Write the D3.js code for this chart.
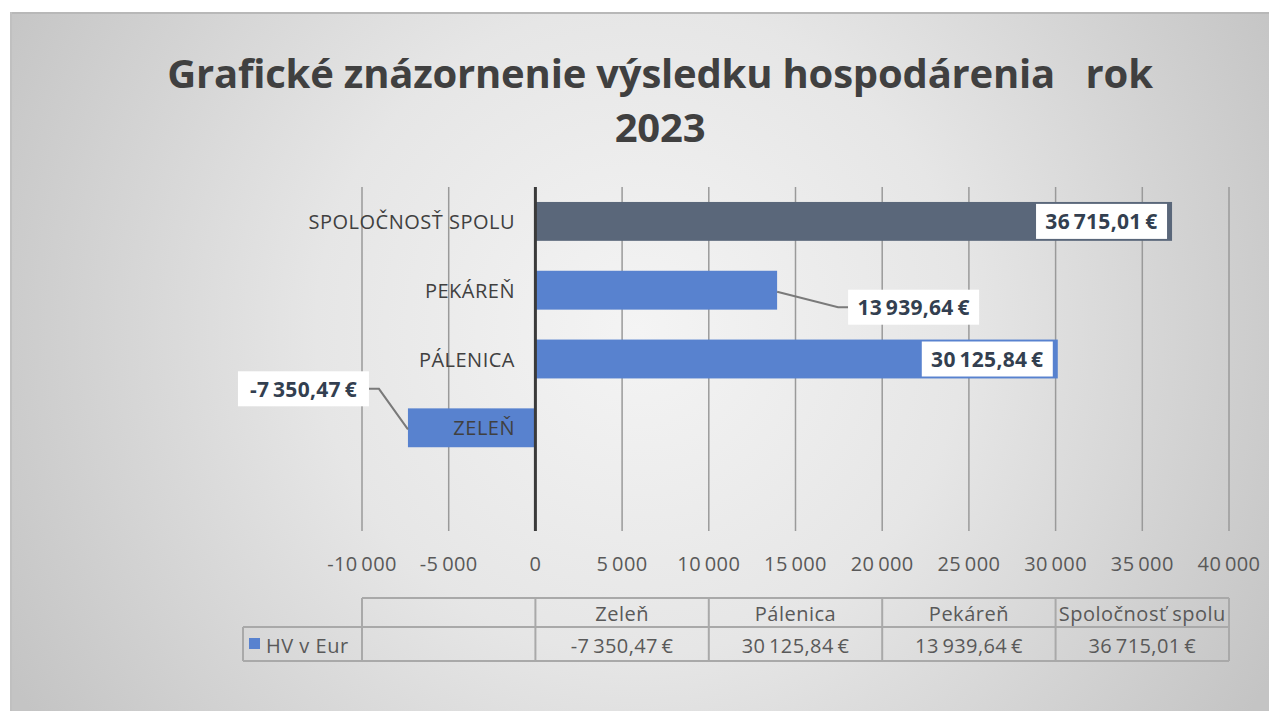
<!DOCTYPE html>
<html>
<head>
<meta charset="utf-8">
<script src="https://cdn.jsdelivr.net/npm/d3@7"></script>
<style>
  body { margin: 0; background: #fff; }
  text { font-family: "Open Sans", Lato, sans-serif; }
</style>
</head>
<body>
<div id="chart"></div>
<script>
var width = 1269, height = 711;

// data, bottom-to-top order as in the data table
var categories = ['', 'Zeleň', 'Pálenica', 'Pekáreň', 'Spoločnosť spolu'];
var values = [null, -7350.47, 30125.84, 13939.64, 36715.01];
var xTicks = [-10000, -5000, 0, 5000, 10000, 15000, 20000, 25000, 30000, 35000, 40000];
var seriesName = 'HV v Eur';
var title = ['Grafické znázornenie výsledku hospodárenia\u00a0\u00a0 rok', '2023'];

var loc = d3.formatLocale({ decimal: ',', thousands: '\u2009', grouping: [3], currency: ['', '\u00a0€'], minus: '-' });
var fmtTick = loc.format(',d');
var fmtEur = function (v) { return loc.format(',.2f')(v) + '\u2009€'; };

var svg = d3.select('#chart').append('svg')
    .attr('width', width)
    .attr('height', height);

var defs = svg.append('defs');
var grad = defs.append('radialGradient')
    .attr('id', 'bg')
    .attr('gradientUnits', 'userSpaceOnUse')
    .attr('cx', 640).attr('cy', 330).attr('r', 720);
grad.append('stop').attr('offset', '0%').attr('stop-color', '#f4f4f4');
grad.append('stop').attr('offset', '45%').attr('stop-color', '#e6e6e6');
grad.append('stop').attr('offset', '100%').attr('stop-color', '#c4c4c4');

svg.append('rect')
    .attr('x', 10).attr('y', 12)
    .attr('width', width - 10).attr('height', height - 12)
    .attr('fill', 'url(#bg)');
svg.append('line')
    .attr('x1', 10).attr('x2', width).attr('y1', 13).attr('y2', 13)
    .attr('stroke', '#b8b8b8').attr('stroke-width', 2);
svg.append('line')
    .attr('x1', 11).attr('x2', 11).attr('y1', 12).attr('y2', height)
    .attr('stroke', '#c0c0c0').attr('stroke-width', 2);

// title
svg.append('g').selectAll('text').data(title).enter().append('text')
    .attr('x', 660)
    .attr('y', (d, i) => 88 + i * 54)
    .attr('text-anchor', 'middle')
    .attr('font-size', 40)
    .attr('font-weight', 'bold')
    .attr('letter-spacing', -0.2)
    .attr('fill', '#404040')
    .text((d) => d);

var x = d3.scaleLinear().domain([-10000, 40000]).range([362, 1229]);
var y = d3.scaleBand()
    .domain(categories.slice().reverse())
    .range([187, 531])
    .paddingInner(0.435)
    .paddingOuter(0.2175);

// gridlines
svg.append('g').selectAll('line').data(xTicks).enter().append('line')
    .attr('x1', (d) => x(d)).attr('x2', (d) => x(d))
    .attr('y1', 187).attr('y2', 531)
    .attr('stroke', '#9a9a9a').attr('stroke-width', 1.5);

// bars
var rows = categories.map((c, i) => ({ name: c, value: values[i] })).filter((d) => d.value !== null);
svg.append('g').selectAll('rect').data(rows).enter().append('rect')
    .attr('x', (d) => x(Math.min(0, d.value)))
    .attr('width', (d) => Math.abs(x(d.value) - x(0)))
    .attr('y', (d) => y(d.name))
    .attr('height', y.bandwidth())
    .attr('fill', (d) => d.name === 'Spoločnosť spolu' ? '#5a677a' : '#5882cf');

// vertical axis
svg.append('line')
    .attr('x1', x(0)).attr('x2', x(0))
    .attr('y1', 187).attr('y2', 531)
    .attr('stroke', '#3a3a3a').attr('stroke-width', 3);

// category labels
svg.append('g').selectAll('text').data(categories.filter((c) => c)).enter().append('text')
    .attr('x', 515)
    .attr('y', (d) => y(d) + y.bandwidth() / 2 + 7.5)
    .attr('text-anchor', 'end')
    .attr('font-size', 20)
    .attr('letter-spacing', 0.5)
    .attr('fill', '#404040')
    .text((d) => d.toUpperCase());

// x tick labels
svg.append('g').selectAll('text').data(xTicks).enter().append('text')
    .attr('x', (d) => x(d))
    .attr('y', 571)
    .attr('text-anchor', 'middle')
    .attr('font-size', 20)
    .attr('letter-spacing', 0.4)
    .attr('fill', '#595959')
    .text((d) => fmtTick(d));

// data labels
function labelPos(d) {
    var cy = y(d.name) + y.bandwidth() / 2;
    if (d.name === 'Pekáreň') return { left: x(d.value) + 71, cy: cy + 17, lead: true };
    if (d.name === 'Zeleň') return { right: x(d.value) - 39, cy: cy - 39, lead: true };
    return { right: x(d.value) - 5, cy: cy };
}
var lbl = svg.append('g');
rows.forEach(function (d) {
    var p = labelPos(d);
    var w = 131, h = 35;
    var left = p.left !== undefined ? p.left : p.right - w;
    if (p.lead) {
        var pts;
        if (d.value > 0) {
            pts = [[x(d.value), y(d.name) + 21], [left - 10, p.cy], [left, p.cy]];
        } else {
            pts = [[left + w, p.cy], [left + w + 10, p.cy], [x(d.value), y(d.name) + 21]];
        }
        lbl.append('path')
            .attr('d', d3.line()(pts))
            .attr('fill', 'none')
            .attr('stroke', '#7a7a7a')
            .attr('stroke-width', 2);
    }
    lbl.append('rect')
        .attr('x', left).attr('y', p.cy - h / 2)
        .attr('width', w).attr('height', h)
        .attr('fill', '#ffffff');
    lbl.append('text')
        .attr('x', left + w / 2).attr('y', p.cy + 8)
        .attr('text-anchor', 'middle')
        .attr('font-size', 21)
        .attr('font-weight', 'bold')
        .attr('letter-spacing', 0.3)
        .attr('fill', '#333f50')
        .text(fmtEur(d.value));
});

// data table
var colEdges = [-10000, 0, 10000, 20000, 30000, 40000];
var t = svg.append('g');
var topY = 598, midY = 627, botY = 661, legendX = 243;
var tcol = '#a9a9a9';
t.append('line').attr('x1', x(-10000)).attr('x2', x(40000)).attr('y1', topY).attr('y2', topY);
t.append('line').attr('x1', legendX).attr('x2', x(40000)).attr('y1', midY).attr('y2', midY);
t.append('line').attr('x1', legendX).attr('x2', x(40000)).attr('y1', botY).attr('y2', botY);
t.append('line').attr('x1', legendX).attr('x2', legendX).attr('y1', midY).attr('y2', botY);
t.selectAll('.v').data(colEdges).enter().append('line')
    .attr('x1', (d) => x(d)).attr('x2', (d) => x(d))
    .attr('y1', topY).attr('y2', botY);
t.selectAll('line').attr('stroke', tcol).attr('stroke-width', 2);

categories.forEach(function (c, i) {
    var cx = (x(colEdges[i]) + x(colEdges[i + 1])) / 2;
    t.append('text')
        .attr('x', cx).attr('y', 621)
        .attr('text-anchor', 'middle')
        .attr('font-size', 20).attr('letter-spacing', 0.5).attr('fill', '#595959')
        .text(c);
    if (values[i] !== null) {
        t.append('text')
            .attr('x', cx).attr('y', 653)
            .attr('text-anchor', 'middle')
            .attr('font-size', 20).attr('letter-spacing', 0.4).attr('fill', '#595959')
            .text(fmtEur(values[i]));
    }
});
t.append('rect')
    .attr('x', 249).attr('y', 638).attr('width', 11).attr('height', 11)
    .attr('fill', '#5882cf');
t.append('text')
    .attr('x', 266).attr('y', 653)
    .attr('font-size', 20).attr('letter-spacing', 0.5).attr('fill', '#595959')
    .text(seriesName);
</script>
</body>
</html>
